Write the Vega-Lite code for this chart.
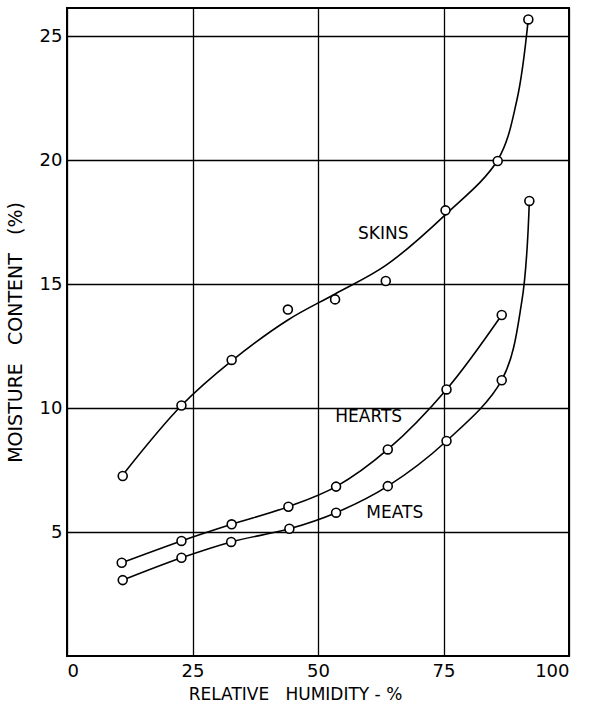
{
  "$schema": "https://vega.github.io/schema/vega-lite/v6.json",
  "width": 502,
  "height": 648,
  "autosize": {"type": "none"},
  "padding": {"left": 67, "top": 8, "right": 33, "bottom": 54},
  "background": "white",
  "config": {
    "view": {"stroke": "black", "strokeWidth": 2},
    "axis": {
      "grid": true,
      "gridColor": "black",
      "gridWidth": 1.3,
      "gridOpacity": 1,
      "domain": false,
      "ticks": false,
      "labelFont": "DejaVu Sans",
      "labelFontSize": 18,
      "labelColor": "black",
      "titleFont": "DejaVu Sans",
      "titleFontSize": 17,
      "titleFontWeight": "normal",
      "titleColor": "black"
    }
  },
  "datasets": {
    "curves": [
      {"series": "SKINS", "rh": 11.1, "mc": 7.3},
      {"series": "SKINS", "rh": 22.8, "mc": 10.1},
      {"series": "SKINS", "rh": 32.8, "mc": 11.9},
      {"series": "SKINS", "rh": 44, "mc": 13.55},
      {"series": "SKINS", "rh": 53.4, "mc": 14.6},
      {"series": "SKINS", "rh": 63.5, "mc": 15.75},
      {"series": "SKINS", "rh": 75.4, "mc": 17.8},
      {"series": "SKINS", "rh": 85.8, "mc": 20.0},
      {"series": "SKINS", "rh": 89.6, "mc": 22.4},
      {"series": "SKINS", "rh": 91.9, "mc": 25.7},
      {"series": "HEARTS", "rh": 10.9, "mc": 3.76},
      {"series": "HEARTS", "rh": 22.8, "mc": 4.64},
      {"series": "HEARTS", "rh": 32.8, "mc": 5.31},
      {"series": "HEARTS", "rh": 44.1, "mc": 6.02},
      {"series": "HEARTS", "rh": 53.6, "mc": 6.83},
      {"series": "HEARTS", "rh": 63.9, "mc": 8.33},
      {"series": "HEARTS", "rh": 75.6, "mc": 10.75},
      {"series": "HEARTS", "rh": 86.6, "mc": 13.75},
      {"series": "MEATS", "rh": 11.1, "mc": 3.06},
      {"series": "MEATS", "rh": 22.8, "mc": 3.96},
      {"series": "MEATS", "rh": 32.7, "mc": 4.6},
      {"series": "MEATS", "rh": 44.3, "mc": 5.13},
      {"series": "MEATS", "rh": 53.6, "mc": 5.78},
      {"series": "MEATS", "rh": 63.9, "mc": 6.85},
      {"series": "MEATS", "rh": 75.6, "mc": 8.67},
      {"series": "MEATS", "rh": 86.6, "mc": 11.12},
      {"series": "MEATS", "rh": 90.6, "mc": 14.3},
      {"series": "MEATS", "rh": 92.1, "mc": 18.35}
    ],
    "points": [
      {"series": "SKINS", "rh": 11.1, "mc": 7.26},
      {"series": "SKINS", "rh": 22.8, "mc": 10.1},
      {"series": "SKINS", "rh": 32.8, "mc": 11.94},
      {"series": "SKINS", "rh": 44.0, "mc": 13.97},
      {"series": "SKINS", "rh": 53.4, "mc": 14.38},
      {"series": "SKINS", "rh": 63.5, "mc": 15.12},
      {"series": "SKINS", "rh": 75.4, "mc": 17.97},
      {"series": "SKINS", "rh": 85.8, "mc": 19.96},
      {"series": "SKINS", "rh": 91.9, "mc": 25.67},
      {"series": "HEARTS", "rh": 10.9, "mc": 3.76},
      {"series": "HEARTS", "rh": 22.8, "mc": 4.64},
      {"series": "HEARTS", "rh": 32.8, "mc": 5.31},
      {"series": "HEARTS", "rh": 44.1, "mc": 6.02},
      {"series": "HEARTS", "rh": 53.6, "mc": 6.83},
      {"series": "HEARTS", "rh": 63.9, "mc": 8.33},
      {"series": "HEARTS", "rh": 75.6, "mc": 10.75},
      {"series": "HEARTS", "rh": 86.6, "mc": 13.75},
      {"series": "MEATS", "rh": 11.1, "mc": 3.06},
      {"series": "MEATS", "rh": 22.8, "mc": 3.96},
      {"series": "MEATS", "rh": 32.7, "mc": 4.6},
      {"series": "MEATS", "rh": 44.3, "mc": 5.13},
      {"series": "MEATS", "rh": 53.6, "mc": 5.78},
      {"series": "MEATS", "rh": 63.9, "mc": 6.85},
      {"series": "MEATS", "rh": 75.6, "mc": 8.67},
      {"series": "MEATS", "rh": 86.6, "mc": 11.12},
      {"series": "MEATS", "rh": 92.1, "mc": 18.35}
    ],
    "labels": [
      {"label": "SKINS", "rh": 63.0, "mc": 17.0},
      {"label": "HEARTS", "rh": 60.1, "mc": 9.64},
      {"label": "MEATS", "rh": 65.3, "mc": 5.77}
    ]
  },
  "layer": [
    {
      "data": {"name": "curves"},
      "mark": {"type": "line", "interpolate": "catmull-rom", "color": "black", "strokeWidth": 1.6},
      "encoding": {
        "x": {
          "field": "rh", "type": "quantitative",
          "scale": {"domain": [0, 100], "nice": false, "zero": false},
          "axis": {"values": [0, 25, 50, 75, 100], "title": "RELATIVE\u00a0\u00a0\u00a0HUMIDITY\u00a0-\u00a0%", "labelPadding": 6, "titlePadding": 6, "titleX": 228}
        },
        "y": {
          "field": "mc", "type": "quantitative",
          "scale": {"domain": [0, 26.13], "nice": false, "zero": false},
          "axis": {"values": [5, 10, 15, 20, 25], "title": "MOISTURE\u00a0\u00a0\u00a0CONTENT\u00a0\u00a0\u00a0(%)", "titleFontSize": 19, "labelPadding": 5, "titlePadding": 14}
        },
        "detail": {"field": "series"}
      }
    },
    {
      "data": {"name": "points"},
      "mark": {"type": "point", "shape": "circle", "filled": false, "fill": "white", "fillOpacity": 1, "stroke": "black", "strokeWidth": 1.6, "size": 80, "opacity": 1},
      "encoding": {
        "x": {"field": "rh", "type": "quantitative"},
        "y": {"field": "mc", "type": "quantitative"}
      }
    },
    {
      "data": {"name": "labels"},
      "mark": {"type": "text", "font": "DejaVu Sans", "fontSize": 17, "color": "black", "align": "center", "baseline": "middle"},
      "encoding": {
        "x": {"field": "rh", "type": "quantitative"},
        "y": {"field": "mc", "type": "quantitative"},
        "text": {"field": "label"}
      }
    }
  ]
}
